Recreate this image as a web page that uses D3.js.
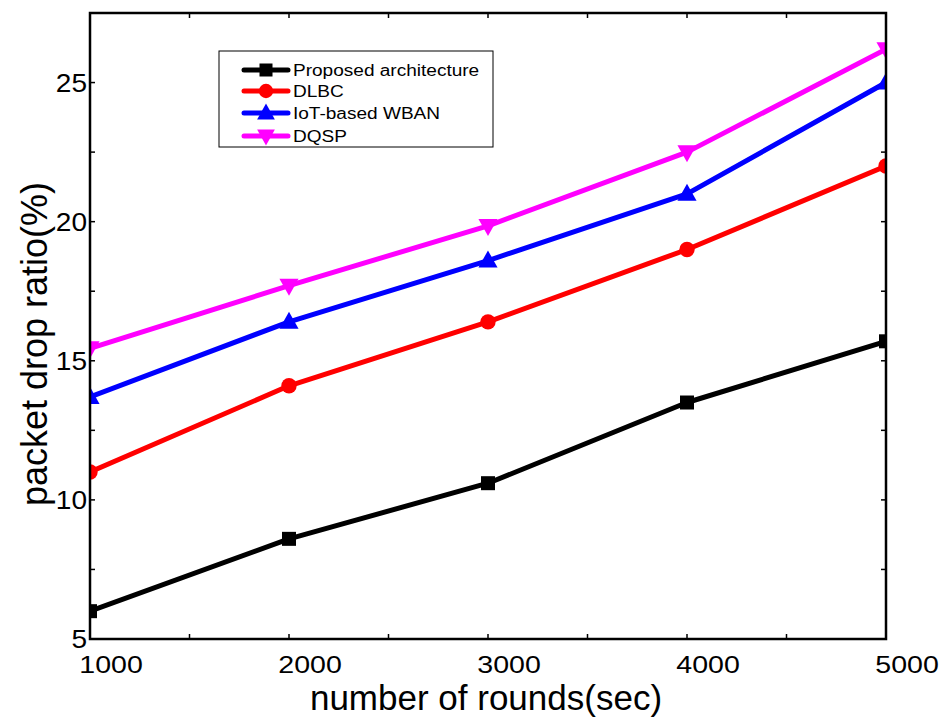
<!DOCTYPE html>
<html><head><meta charset="utf-8">
<script src="https://cdn.jsdelivr.net/npm/d3@7/dist/d3.min.js"></script>
<style>body{margin:0;background:#fff;} svg{display:block;font-family:"Liberation Sans",Arial,sans-serif;}</style>
</head><body>
<svg id="c" width="947" height="717"></svg>
<script>
const rounds = [1000, 2000, 3000, 4000, 5000];
const proposed = [6.0, 8.6, 10.6, 13.5, 15.7];
const dlbc = [11.0, 14.1, 16.4, 19.0, 22.0];
const iotWban = [13.7, 16.4, 18.6, 21.0, 25.0];
const dqsp = [15.45, 17.7, 19.85, 22.5, 26.2];
const seriesNames = ["Proposed architecture", "DLBC", "IoT-based WBAN", "DQSP"];
const seriesColors = ["#000000", "#ff0000", "#0000ff", "#ff00ff"];
const seriesShapes = ["square", "circle", "triangleUp", "triangleDown"];
const xTickLabels = [1000, 2000, 3000, 4000, 5000];
const yTickLabels = [5, 10, 15, 20, 25];
const xLabel = "number of rounds(sec)";
const yLabel = "packet drop ratio(%)";

const seriesValues = [proposed, dlbc, iotWban, dqsp];
const svg = d3.select("#c");
const L = 90, R = 886, T = 13, B = 639;
const SX = 1.19; // horizontal stretch of some text in the reference
const x = d3.scaleLinear().domain([1000, 5000]).range([L, R]);
const y = d3.scaleLinear().domain([5, 27.5]).range([B, T]);

svg.append("defs").append("clipPath").attr("id", "clip")
  .append("rect").attr("x", L).attr("y", T).attr("width", R - L).attr("height", B - T);

// ticks on all sides (inward)
const xt = d3.range(1000, 5001, 500);
const yt = d3.range(5, 27.51, 2.5);
const tl = 5;
const g = svg.append("g").attr("stroke", "#000").attr("stroke-width", 1.5);
xt.forEach(v => {
  g.append("line").attr("x1", x(v)).attr("x2", x(v)).attr("y1", B).attr("y2", B - tl);
  g.append("line").attr("x1", x(v)).attr("x2", x(v)).attr("y1", T).attr("y2", T + tl);
});
yt.forEach(v => {
  g.append("line").attr("x1", L).attr("x2", L + tl).attr("y1", y(v)).attr("y2", y(v));
  g.append("line").attr("x1", R).attr("x2", R - tl).attr("y1", y(v)).attr("y2", y(v));
});

// data lines
const line = d3.line().x((d, i) => x(rounds[i])).y(d => y(d));
function marker(sel, shape, color, cx, cy, s) {
  if (shape === "square") {
    sel.append("rect").attr("x", cx - s * 0.5).attr("y", cy - s * 0.5).attr("width", s).attr("height", s).attr("fill", color);
  } else if (shape === "circle") {
    sel.append("circle").attr("cx", cx).attr("cy", cy).attr("r", s * 0.55).attr("fill", color);
  } else if (shape === "triangleUp") {
    const h = s * 1.1;
    sel.append("path").attr("d", `M${cx},${cy - h * 0.66}L${cx + h * 0.62},${cy + h * 0.45}L${cx - h * 0.62},${cy + h * 0.45}Z`).attr("fill", color);
  } else {
    const h = s * 1.1;
    sel.append("path").attr("d", `M${cx},${cy + h * 0.66}L${cx + h * 0.62},${cy - h * 0.45}L${cx - h * 0.62},${cy - h * 0.45}Z`).attr("fill", color);
  }
}
const plot = svg.append("g").attr("clip-path", "url(#clip)");
seriesValues.forEach((vals, k) => {
  plot.append("path").datum(vals).attr("d", line).attr("fill", "none")
    .attr("stroke", seriesColors[k]).attr("stroke-width", 5).attr("stroke-linejoin", "round");
  vals.forEach((v, i) => marker(plot, seriesShapes[k], seriesColors[k], x(rounds[i]), y(v), 14));
});

// frame
svg.append("rect").attr("x", L).attr("y", T).attr("width", R - L).attr("height", B - T)
  .attr("fill", "none").attr("stroke", "#000").attr("stroke-width", 2.5);

// tick labels
svg.append("g").selectAll("text").data(xTickLabels).join("text")
  .attr("transform", d => `translate(${x(d) + 21},673) scale(${SX},1)`).attr("text-anchor", "middle")
  .attr("font-size", 24).text(d => d);
svg.append("g").selectAll("text").data(yTickLabels).join("text")
  .attr("transform", d => `translate(87,${y(d) + 9}) scale(1.08,1)`).attr("text-anchor", "end")
  .attr("font-size", 26).text(d => d);

// axis titles
svg.append("text").attr("x", 486).attr("y", 710).attr("text-anchor", "middle")
  .attr("font-size", 35).text(xLabel);
svg.append("text").attr("transform", "translate(47,344) rotate(-90)").attr("text-anchor", "middle")
  .attr("font-size", 36).text(yLabel);

// legend
const lg = svg.append("g");
lg.append("rect").attr("x", 219).attr("y", 51).attr("width", 274).attr("height", 96)
  .attr("fill", "#fff").attr("stroke", "#000").attr("stroke-width", 1);
const rowsY = [70, 91, 113, 136];
seriesNames.forEach((n, k) => {
  const yy = rowsY[k];
  lg.append("line").attr("x1", 244).attr("x2", 288).attr("y1", yy).attr("y2", yy)
    .attr("stroke", seriesColors[k]).attr("stroke-width", 5).attr("stroke-linecap", "round");
  marker(lg, seriesShapes[k], seriesColors[k], 266, yy, 13);
  lg.append("text").attr("transform", `translate(293,${yy + 6}) scale(${SX},1)`).attr("font-size", 16).text(n);
});
</script>
</body></html>
